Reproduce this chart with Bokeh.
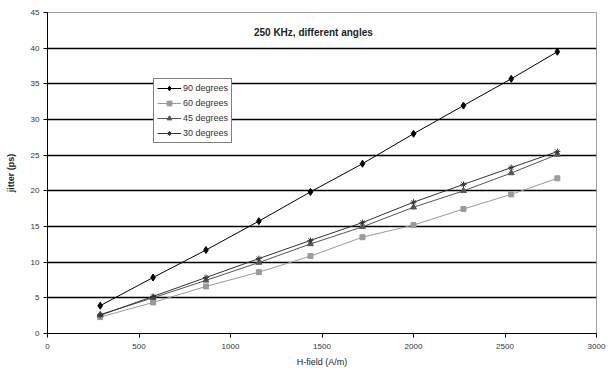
from bokeh.plotting import figure
from bokeh.models import Range1d, FixedTicker, Label
from bokeh.embed import file_html
from bokeh.resources import INLINE

h_field = [288, 577, 866, 1155, 1437, 1721, 2000, 2273, 2534, 2786]
deg90 = [3.9, 7.85, 11.7, 15.75, 19.85, 23.8, 28.0, 31.95, 35.7, 39.5]
deg60 = [2.3, 4.35, 6.6, 8.6, 10.85, 13.5, 15.2, 17.45, 19.5, 21.75]
deg45 = [2.65, 5.0, 7.45, 9.95, 12.55, 14.95, 17.7, 20.0, 22.5, 25.1]
deg30 = [2.55, 5.2, 7.85, 10.5, 13.05, 15.55, 18.4, 20.9, 23.25, 25.5]
y_ticks = [0, 5, 10, 15, 20, 25, 30, 35, 40, 45]
x_ticks = [0, 500, 1000, 1500, 2000, 2500, 3000]

FONT = "Liberation Sans"

p = figure(width=610, height=372, output_backend="svg", toolbar_location=None,
           x_range=Range1d(0, 3000), y_range=Range1d(0, 45),
           min_border_left=47, min_border_right=14, min_border_top=12, min_border_bottom=39)
p.background_fill_color = "white"
p.border_fill_color = "white"
p.outline_line_color = "#a0a0a0"
p.outline_line_width = 1

p.xgrid.grid_line_color = None
p.ygrid.grid_line_color = "black"
p.ygrid.grid_line_width = 1.4
p.ygrid.ticker = FixedTicker(ticks=y_ticks[1:-1])

for ax in (p.xaxis[0], p.yaxis[0]):
    ax.axis_line_color = "black"
    ax.axis_line_width = 1
    ax.major_tick_line_color = "black"
    ax.major_tick_out = 4
    ax.major_tick_in = 0
    ax.minor_tick_line_color = None
    ax.major_label_text_font = FONT
    ax.major_label_text_font_size = "8px"
    ax.major_label_text_color = "#333333"
    ax.axis_label_text_font = FONT
    ax.axis_label_text_font_size = "9px"
    ax.axis_label_text_font_style = "normal"
    ax.axis_label_text_color = "#222222"

p.xaxis.ticker = FixedTicker(ticks=x_ticks)
p.yaxis.ticker = FixedTicker(ticks=y_ticks)
p.xaxis.axis_label = "H-field (A/m)"
p.yaxis.axis_label = "jitter (ps)"
p.yaxis.axis_label_text_font_style = "bold"
p.xaxis.major_label_standoff = 6
p.xaxis.axis_label_standoff = 5
p.yaxis.major_label_standoff = 4
p.yaxis.axis_label_standoff = 12

series = [
    ("90 degrees", deg90, "#000000", "diamond", 7),
    ("60 degrees", deg60, "#9a9a9a", "square", 5),
    ("45 degrees", deg45, "#555555", "triangle", 6),
    ("30 degrees", deg30, "#333333", "asterisk", 6),
]
for name, ys, col, marker, size in series:
    p.line(h_field, ys, line_color=col, line_width=1, legend_label=name)
    p.scatter(h_field, ys, marker=marker, size=size, fill_color=col, line_color=col,
              legend_label=name)

p.add_layout(Label(x=1453, y=42.2, text="250 KHz, different angles", text_align="center",
                   text_baseline="middle", text_font=FONT, text_font_size="10px",
                   text_font_style="bold", text_color="#222222"))

lg = p.legend[0]
lg.location = (106, 190)
lg.border_line_color = "black"
lg.border_line_width = 1
lg.background_fill_color = "white"
lg.background_fill_alpha = 1
lg.label_text_font = FONT
lg.label_text_font_size = "9px"
lg.label_text_color = "#333333"
lg.glyph_width = 24
lg.glyph_height = 12
lg.label_height = 12
lg.spacing = 3
lg.padding = 3
lg.margin = 0
lg.label_standoff = 2

open("out.html", "w").write(file_html(p, INLINE))
